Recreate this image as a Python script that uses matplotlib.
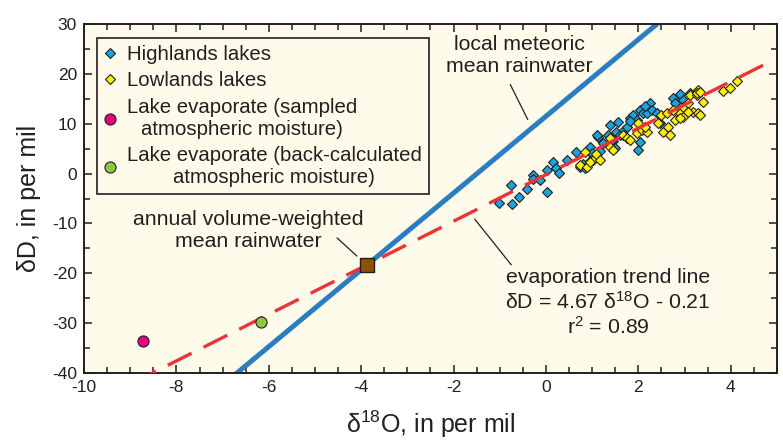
import matplotlib
matplotlib.use("Agg")
import matplotlib.pyplot as plt
from matplotlib.ticker import MultipleLocator
import numpy as np

plt.rcParams['font.family'] = ['Liberation Sans', 'DejaVu Sans']
plt.rcParams['mathtext.fontset'] = 'custom'
plt.rcParams['mathtext.rm'] = 'Liberation Sans'
plt.rcParams['mathtext.it'] = 'Liberation Sans:italic'
plt.rcParams['axes.unicode_minus'] = False

INK = '#231f20'
BG = '#fffbea'

# isotope values, per mil (d18O, dD)
highlands_d18o = [-1.02, -0.74, -0.76, -0.58, -0.41, -0.28, -0.28, -0.13, 0.02, 0.02,
                  0.15, 0.22, 0.28, 0.45, 0.65, 0.74, 0.80, 0.84, 0.95, 1.02,
                  1.13, 1.17, 1.23, 1.34, 1.39, 1.45, 1.49, 1.52, 1.56, 1.60,
                  1.69, 1.75, 1.82, 1.88, 1.97, 1.99, 2.03, 2.03, 2.10, 2.19,
                  2.25, 2.29, 2.40, 2.75, 2.79, 2.90, 2.97, 3.12, 1.10, 1.42,
                  1.82, 2.14, 2.46, 1.00, 0.95]
highlands_dD = [-5.9, -6.1, -2.3, -4.7, -3.1, -0.3, -1.1, -1.3, -3.7, 0.7,
                2.3, 1.1, 0.1, 2.8, 4.4, 1.3, 1.9, 1.1, 5.4, 3.8,
                7.4, 4.6, 6.2, 7.8, 9.8, 6.6, 5.2, 8.4, 10.4, 7.8,
                8.8, 9.4, 11.2, 11.8, 10.8, 4.8, 6.4, 12.8, 12.2, 12.2,
                14.2, 12.8, 12.2, 15.2, 14.2, 16.0, 14.8, 16.2, 7.8, 6.8,
                10.6, 13.6, 10.2, 4.2, 2.6]

lowlands_d18o = [0.84, 0.74, 0.89, 1.02, 1.08, 0.95, 1.17, 1.39, 1.39, 1.45,
                 1.67, 1.75, 1.82, 1.97, 1.99, 2.08, 2.19, 2.14, 2.42, 2.49,
                 2.53, 2.62, 2.64, 2.68, 2.79, 2.86, 2.90, 2.97, 2.97, 3.07,
                 3.12, 3.27, 3.29, 3.40, 3.18, 3.29, 3.07, 3.33, 2.90, 2.75,
                 3.83, 3.98, 4.13, 3.27, 3.33]
lowlands_dD = [4.4, 1.7, 1.3, 2.8, 4.0, 2.4, 2.8, 7.2, 5.4, 4.8,
               7.8, 7.2, 6.8, 8.2, 10.2, 8.8, 8.4, 9.4, 10.2, 11.8,
               8.4, 12.2, 9.4, 7.8, 10.8, 12.8, 12.2, 13.4, 11.4, 14.2,
               15.8, 15.8, 16.8, 14.4, 12.4, 12.2, 12.4, 11.8, 11.2, 12.8,
               16.6, 17.2, 18.6, 16.2, 16.4]

sampled_evap = (-8.72, -33.5)
backcalc_evap = (-6.17, -29.7)
mean_rain = (-3.87, -18.3)

# regression lines
lmwl_slope, lmwl_int = 7.7, 11.5
evap_slope, evap_int = 4.67, -0.21

fig = plt.figure(figsize=(7.83, 4.44), dpi=100)
ax = fig.add_axes([0.1073, 0.1599, 0.885, 0.786])
ax.set_facecolor(BG)

xl = np.array([-10.0, 5.0])
ax.plot(xl, lmwl_slope * xl + lmwl_int, color='#2b7cc1', lw=3.6,
        solid_capstyle='butt', zorder=2)

# dashed trend line, drawn from its top end so the last dash is solid
xe = np.array([4.7, -10.0])
ax.plot(xe, evap_slope * xe + evap_int, color='#ee3338', lw=2.4,
        dashes=(8, 4), dash_capstyle='butt', zorder=5)

diamond = dict(ls='none', marker='D', ms=4.9, mec=INK, mew=0.8)
ax.plot(highlands_d18o, highlands_dD, mfc='#1ba3e0', label='Highlands lakes',
        zorder=3, **diamond)
ax.plot(lowlands_d18o, lowlands_dD, mfc='#fff200', label='Lowlands lakes',
        zorder=4, **diamond)
ax.plot(*sampled_evap, ls='none', marker='o', ms=8, mfc='#e6007e', mec=INK,
        mew=0.8, label='Lake evaporate (sampled\natmospheric moisture)', zorder=6)
ax.plot(*backcalc_evap, ls='none', marker='o', ms=8, mfc='#8dc63f', mec=INK,
        mew=0.8, label='Lake evaporate (back-calculated\natmospheric moisture)',
        zorder=6)
ax.plot(*mean_rain, ls='none', marker='s', ms=9.5, mfc='#8b5200', mec=INK,
        mew=1.0, zorder=7)

ax.set_xlim(-10, 5)
ax.set_ylim(-40, 30)
ax.xaxis.set_major_locator(MultipleLocator(2))
ax.xaxis.set_minor_locator(MultipleLocator(0.5))
ax.yaxis.set_major_locator(MultipleLocator(10))
ax.yaxis.set_minor_locator(MultipleLocator(5))
ax.tick_params(which='both', direction='in', top=True, right=True,
               color=INK, width=1.1, labelsize=12.5, labelcolor=INK)
ax.tick_params(which='major', length=6, pad=5)
ax.tick_params(which='minor', length=4)
for s in ax.spines.values():
    s.set_color(INK)
    s.set_linewidth(1.4)

ax.set_xlabel(r'δ$^{18}$O, in per mil', fontsize=18, color=INK, labelpad=10)
ax.set_ylabel('δD, in per mil', fontsize=18, color=INK, labelpad=8)

leg = ax.legend(loc='upper left', bbox_to_anchor=(0.0188, 0.96),
                borderaxespad=0, fontsize=14.7, frameon=True, fancybox=False,
                facecolor=BG, edgecolor=INK, framealpha=1, handlelength=0.6,
                handletextpad=0.5, labelspacing=0.36, borderpad=0.35,
                labelcolor=INK)
leg.get_frame().set_linewidth(1.2)
for t in leg.get_texts():
    t.set_multialignment('center')

narrow = ['Liberation Sans Narrow', 'Liberation Sans']
note = dict(fontsize=15.3, color=INK, ha='center', va='center', family=narrow,
            linespacing=1.2)

def pix(px, py):
    # figure pixel (top-left origin) -> figure fraction
    return px / 783, 1 - py / 444

ax.text(*pix(519, 55), 'local meteoric\nmean rainwater',
        transform=fig.transFigure, **note)
ax.annotate('', xy=pix(529, 122), xytext=pix(509, 82),
            xycoords='figure fraction', textcoords='figure fraction',
            arrowprops=dict(arrowstyle='-', color=INK, lw=0.9))

ax.text(*pix(248, 230), 'annual volume-weighted\nmean rainwater',
        transform=fig.transFigure, **note)
ax.annotate('', xy=pix(359, 258), xytext=pix(335, 236),
            xycoords='figure fraction', textcoords='figure fraction',
            arrowprops=dict(arrowstyle='-', color=INK, lw=0.9))

ax.text(*pix(608, 303),
        'evaporation trend line\nδD = 4.67 δ$^{18}$O - 0.21\nr$^2$ = 0.89',
        transform=fig.transFigure, **note)
ax.annotate('', xy=pix(513, 267), xytext=pix(473, 217),
            xycoords='figure fraction', textcoords='figure fraction',
            arrowprops=dict(arrowstyle='-', color=INK, lw=0.9))

fig.savefig('out.png', dpi=100, facecolor='white')
